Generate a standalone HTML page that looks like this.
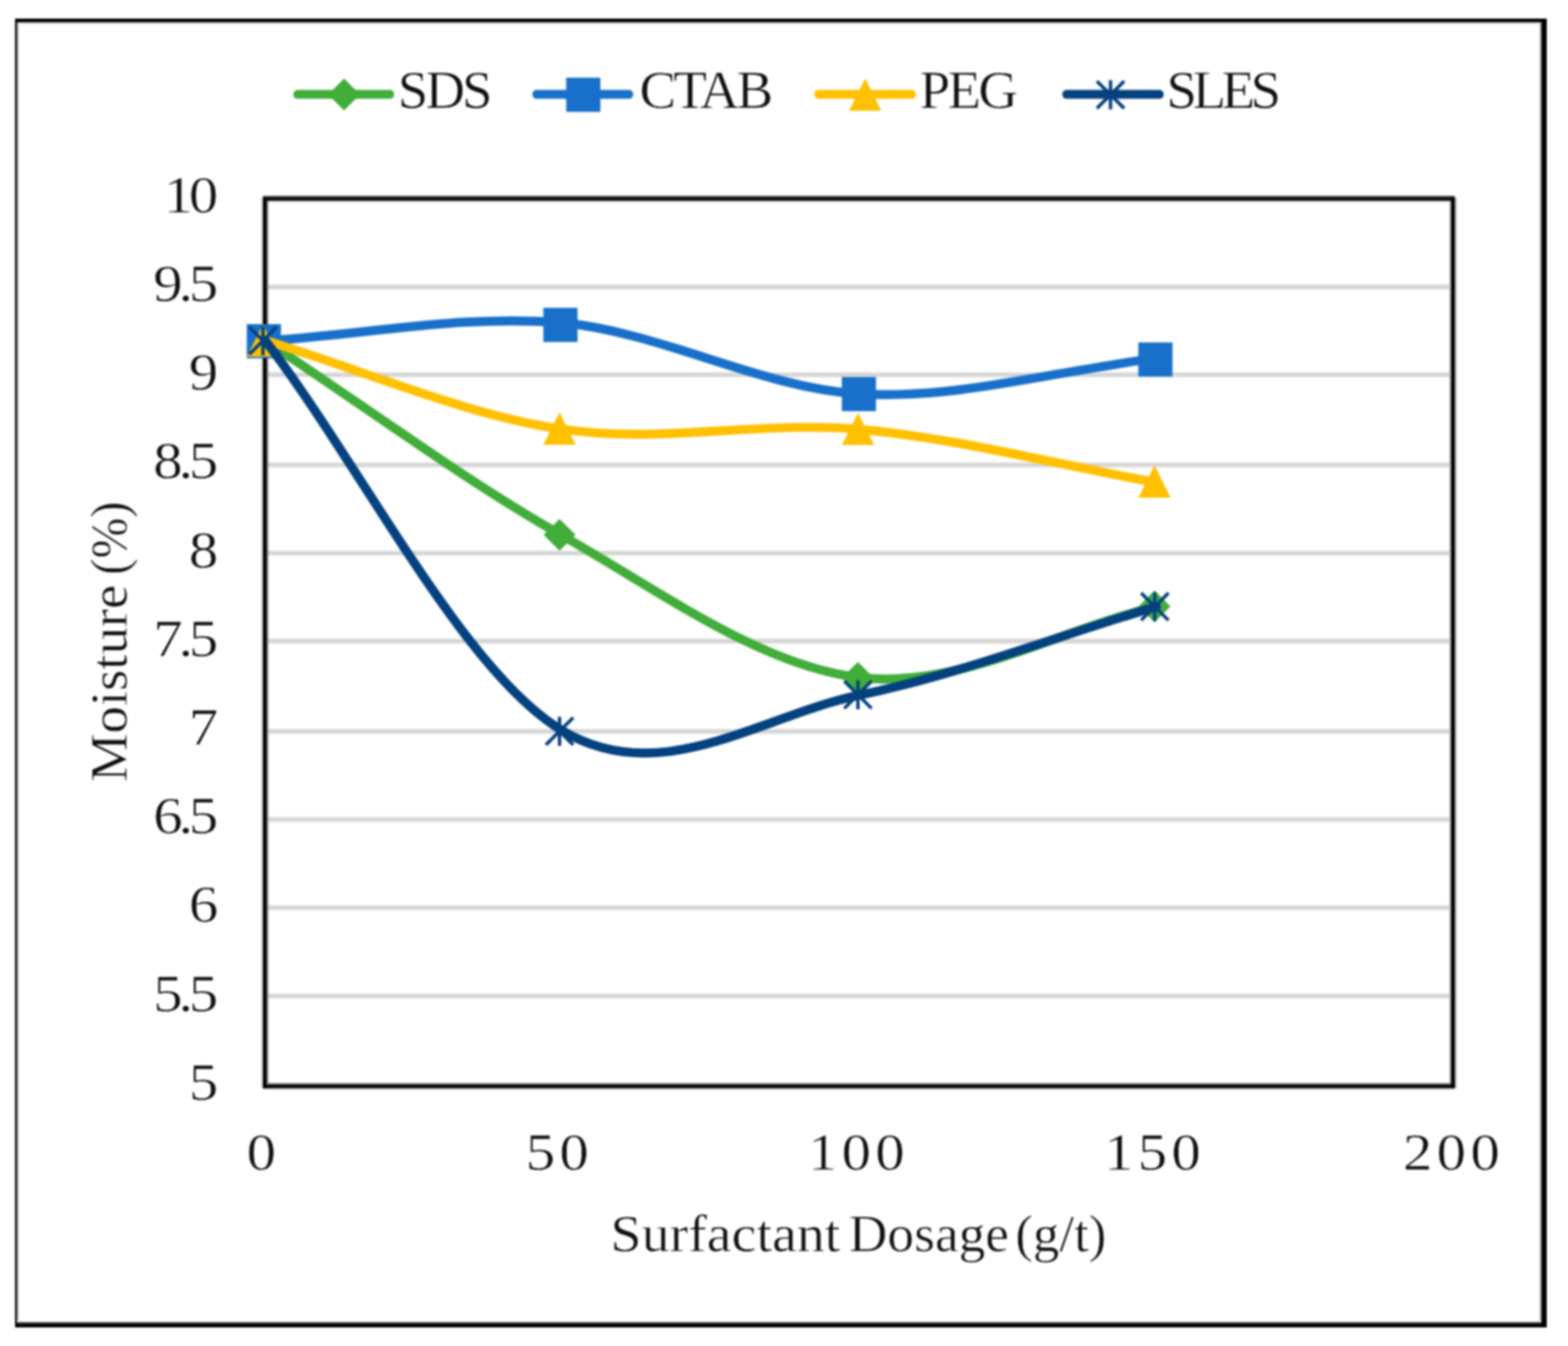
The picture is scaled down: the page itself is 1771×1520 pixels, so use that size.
<!DOCTYPE html>
<html lang="en">
<head>
<meta charset="utf-8">
<title>Moisture (%) vs Surfactant Dosage (g/t)</title>
<style>
html,body{margin:0;padding:0;background:#fff;}
body{width:1771px;height:1520px;overflow:hidden;}
svg{display:block;}
text{font-family:"Liberation Serif","DejaVu Serif",serif;fill:#101010;stroke:#fff;stroke-width:0.55px;paint-order:normal;}
</style>
</head>
<body>
<svg width="1771" height="1520" viewBox="0 0 1771 1520" role="img" aria-label="Moisture (%) versus surfactant dosage (g/t) for SDS, CTAB, PEG and SLES">
<defs><filter id="soft" x="0" y="0" width="1771" height="1520" filterUnits="userSpaceOnUse" color-interpolation-filters="sRGB"><feGaussianBlur stdDeviation="0.80"/></filter></defs>
<g filter="url(#soft)">
<rect width="1771" height="1520" fill="#fff"/>
<g id="frame">
<rect x="17" y="25" width="1724" height="2" fill="#c8c8c8"/>
<rect x="19" y="25" width="2" height="1470" fill="#aaa"/>
<rect x="1739" y="25" width="2" height="1470" fill="#b0b0b0"/>
<rect x="19" y="1491" width="1722" height="2" fill="#f6f6f6"/>
<rect x="19" y="1493" width="1722" height="2" fill="#444"/>
<rect x="17" y="21" width="1730" height="4" fill="#000"/>
<rect x="17" y="1495" width="1730" height="4" fill="#000"/>
<rect x="17" y="21" width="2" height="1478" fill="#000"/>
<rect x="1741" y="21" width="6" height="1478" fill="#000"/>
</g>
<g id="grid">
<rect x="302" y="320.8" width="1336" height="6.4" fill="#e6e6e6"/>
<rect x="302" y="322.7" width="1336" height="2.6" fill="#d0d0d0"/>
<rect x="302" y="420.0" width="1336" height="6.4" fill="#e6e6e6"/>
<rect x="302" y="421.9" width="1336" height="2.6" fill="#d0d0d0"/>
<rect x="302" y="521.8" width="1336" height="6.4" fill="#e6e6e6"/>
<rect x="302" y="523.7" width="1336" height="2.6" fill="#d0d0d0"/>
<rect x="302" y="621.4" width="1336" height="6.4" fill="#e6e6e6"/>
<rect x="302" y="623.3" width="1336" height="2.6" fill="#d0d0d0"/>
<rect x="302" y="720.8" width="1336" height="6.4" fill="#e6e6e6"/>
<rect x="302" y="722.7" width="1336" height="2.6" fill="#d0d0d0"/>
<rect x="302" y="822.8" width="1336" height="6.4" fill="#e6e6e6"/>
<rect x="302" y="824.7" width="1336" height="2.6" fill="#d0d0d0"/>
<rect x="302" y="922.2" width="1336" height="6.4" fill="#e6e6e6"/>
<rect x="302" y="924.1" width="1336" height="2.6" fill="#d0d0d0"/>
<rect x="302" y="1021.8" width="1336" height="6.4" fill="#e6e6e6"/>
<rect x="302" y="1023.7" width="1336" height="2.6" fill="#d0d0d0"/>
<rect x="302" y="1121.5" width="1336" height="6.4" fill="#e6e6e6"/>
<rect x="302" y="1123.4" width="1336" height="2.6" fill="#d0d0d0"/>
</g>
<g id="plot">
<rect x="297" y="227" width="1346" height="2" fill="#e8e8e8"/>
<rect x="297" y="1229" width="1346" height="2" fill="#d8d8d8"/>
<rect x="295" y="223" width="2" height="1006" fill="#d0d0d0"/>
<rect x="1637" y="227" width="2" height="996" fill="#b0b0b0"/>
<rect x="1643" y="223" width="2" height="1006" fill="#a0a0a0"/>
<rect x="301" y="227" width="2" height="996" fill="#777"/>
<rect x="297" y="221" width="1346" height="2" fill="#555"/>
<rect x="297" y="223" width="1346" height="2" fill="#000"/>
<rect x="297" y="225" width="1346" height="2" fill="#2a2a2a"/>
<rect x="301" y="1223" width="1338" height="2" fill="#777"/>
<rect x="297" y="1225" width="1346" height="2" fill="#000"/>
<rect x="297" y="1227" width="1346" height="2" fill="#111"/>
<rect x="297" y="223" width="4" height="1006" fill="#000"/>
<rect x="1639" y="223" width="4" height="1006" fill="#000"/>
</g>
<g id="s-sds">
<path d="M299.7 384.7 C411.5 458.1 523.3 541.5 635.1 604.9 C746.9 668.3 858.7 751.7 970.5 765.1 C1082.4 778.4 1194.2 711.7 1306.0 685.0" fill="none" stroke="#41ad3a" stroke-width="10.2" stroke-linecap="round" stroke-linejoin="round"/>
<path d="M297.0 366.8 L315.0 384.8 L297.0 402.8 L279.0 384.8Z" fill="#41ad3a"/>
<path d="M632.0 586.0 L650.0 604.0 L632.0 622.0 L614.0 604.0Z" fill="#41ad3a"/>
<path d="M969.0 747.6 L987.0 765.6 L969.0 783.6 L951.0 765.6Z" fill="#41ad3a"/>
<path d="M1304.0 666.8 L1322.0 684.8 L1304.0 702.8 L1286.0 684.8Z" fill="#41ad3a"/>
</g>
<g id="s-ctab">
<path d="M299.7 384.7 C411.5 378.1 523.3 354.7 635.1 364.7 C746.9 374.7 858.7 438.1 970.5 444.8 C1082.4 451.5 1194.2 418.1 1306.0 404.8" fill="none" stroke="#1870ca" stroke-width="10.2" stroke-linecap="round" stroke-linejoin="round"/>
<rect x="278.7" y="366.0" width="38.6" height="38.6" fill="#1870ca"/>
<rect x="613.7" y="347.6" width="38.6" height="38.6" fill="#1870ca"/>
<rect x="950.8" y="425.7" width="38.6" height="38.6" fill="#1870ca"/>
<rect x="1285.7" y="386.7" width="38.6" height="38.6" fill="#1870ca"/>
</g>
<g id="s-peg">
<path d="M299.7 384.7 C411.5 418.1 523.3 468.1 635.1 484.8 C746.9 501.5 858.7 474.8 970.5 484.8 C1082.4 494.8 1194.2 524.9 1306.0 544.9" fill="none" stroke="#ffc000" stroke-width="10.2" stroke-linecap="round" stroke-linejoin="round"/>
<path d="M297.0 366.4 L315.2 402.8 L278.8 402.8Z" fill="#ffc000"/>
<path d="M632.0 465.8 L650.2 502.2 L613.8 502.2Z" fill="#ffc000"/>
<path d="M969.2 466.2 L987.4 502.6 L951.0 502.6Z" fill="#ffc000"/>
<path d="M1304.0 525.6 L1322.2 562.0 L1285.8 562.0Z" fill="#ffc000"/>
</g>
<g id="s-sles">
<path d="M299.7 384.7 C411.5 531.5 523.3 758.4 635.1 825.1 C746.9 891.8 858.7 808.4 970.5 785.1 C1082.4 761.7 1194.2 718.3 1306.0 685.0" fill="none" stroke="#04417f" stroke-width="10.2" stroke-linecap="round" stroke-linejoin="round"/>
<path d="M281.6 369.4 L312.4 400.2 M281.6 400.2 L312.4 369.4 M297.0 368.4 L297.0 401.2" fill="none" stroke="#04417f" stroke-width="3.8"/>
<path d="M616.6 810.4 L647.4 841.2 M616.6 841.2 L647.4 810.4 M632.0 809.4 L632.0 842.2" fill="none" stroke="#04417f" stroke-width="3.8"/>
<path d="M953.6 769.2 L984.4 800.0 M953.6 800.0 L984.4 769.2 M969.0 768.2 L969.0 801.0" fill="none" stroke="#04417f" stroke-width="3.8"/>
<path d="M1288.9 669.7 L1319.7 700.5 M1288.9 700.5 L1319.7 669.7 M1304.3 668.7 L1304.3 701.5" fill="none" stroke="#04417f" stroke-width="3.8"/>
</g>
<g id="legend">
<line x1="336.3" y1="106.6" x2="440.2" y2="106.6" stroke="#41ad3a" stroke-width="10.0" stroke-linecap="round"/>
<path d="M388.6 88.7 L406.6 106.7 L388.6 124.7 L370.6 106.7Z" fill="#41ad3a"/>
<text x="449.3" y="122.2" font-size="62" textLength="107.0" lengthAdjust="spacing">SDS</text>
<line x1="606.3" y1="106.6" x2="710.2" y2="106.6" stroke="#1870ca" stroke-width="10.0" stroke-linecap="round"/>
<rect x="639.5" y="87.7" width="38.6" height="38.6" fill="#1870ca"/>
<text x="722.3" y="122.2" font-size="62" textLength="151.0" lengthAdjust="spacing">CTAB</text>
<line x1="924.8" y1="106.6" x2="1029.4" y2="106.6" stroke="#ffc000" stroke-width="10.0" stroke-linecap="round"/>
<path d="M977.2 88.7 L995.4 125.1 L959.0 125.1Z" fill="#ffc000"/>
<text x="1038.8" y="122.2" font-size="62" textLength="111.0" lengthAdjust="spacing">PEG</text>
<line x1="1204.8" y1="106.6" x2="1309.4" y2="106.6" stroke="#04417f" stroke-width="10.0" stroke-linecap="round"/>
<path d="M1238.9 91.6 L1269.7 122.4 M1238.9 122.4 L1269.7 91.6 M1254.3 90.6 L1254.3 123.4" fill="none" stroke="#04417f" stroke-width="3.8"/>
<text x="1317.5" y="122.2" font-size="62" textLength="129.6" lengthAdjust="spacing">SLES</text>
</g>
<g id="ylabels" font-size="59.5" text-anchor="end" letter-spacing="-4.4">
<text transform="translate(241.6 239.8) scale(1.12 1)">10</text>
<text transform="translate(241.6 340.0) scale(1.12 1)">9.5</text>
<text transform="translate(241.6 440.2) scale(1.12 1)">9</text>
<text transform="translate(241.6 540.4) scale(1.12 1)">8.5</text>
<text transform="translate(241.6 640.6) scale(1.12 1)">8</text>
<text transform="translate(241.6 740.8) scale(1.12 1)">7.5</text>
<text transform="translate(241.6 841.0) scale(1.12 1)">7</text>
<text transform="translate(241.6 941.2) scale(1.12 1)">6.5</text>
<text transform="translate(241.6 1041.4) scale(1.12 1)">6</text>
<text transform="translate(241.6 1141.6) scale(1.12 1)">5.5</text>
<text transform="translate(241.6 1241.8) scale(1.12 1)">5</text>
</g>
<g id="xlabels" font-size="59.5" letter-spacing="4.2">
<text transform="translate(278.5 1321) scale(1.12 1)">0</text>
<text transform="translate(593.8 1321) scale(1.12 1)">50</text>
<text transform="translate(912.4 1321) scale(1.12 1)">100</text>
<text transform="translate(1247.0 1321) scale(1.12 1)">150</text>
<text transform="translate(1584.6 1321) scale(1.12 1)">200</text>
</g>
<text id="xtitle" y="1412.6" font-size="58.5"><tspan x="689.6" textLength="259.5" lengthAdjust="spacingAndGlyphs">Surfactant</tspan> <tspan x="958.8" textLength="180.8" lengthAdjust="spacingAndGlyphs">Dosage</tspan> <tspan x="1146.7" textLength="103" lengthAdjust="spacingAndGlyphs">(g/t)</tspan></text>
<text id="ytitle" transform="translate(142.5 0) rotate(-90)" y="0" font-size="59.5"><tspan x="-883" textLength="222.6" lengthAdjust="spacingAndGlyphs">Moisture</tspan> <tspan x="-649.3" textLength="83" lengthAdjust="spacingAndGlyphs">(%)</tspan></text>
</g>
</svg>
</body>
</html>
